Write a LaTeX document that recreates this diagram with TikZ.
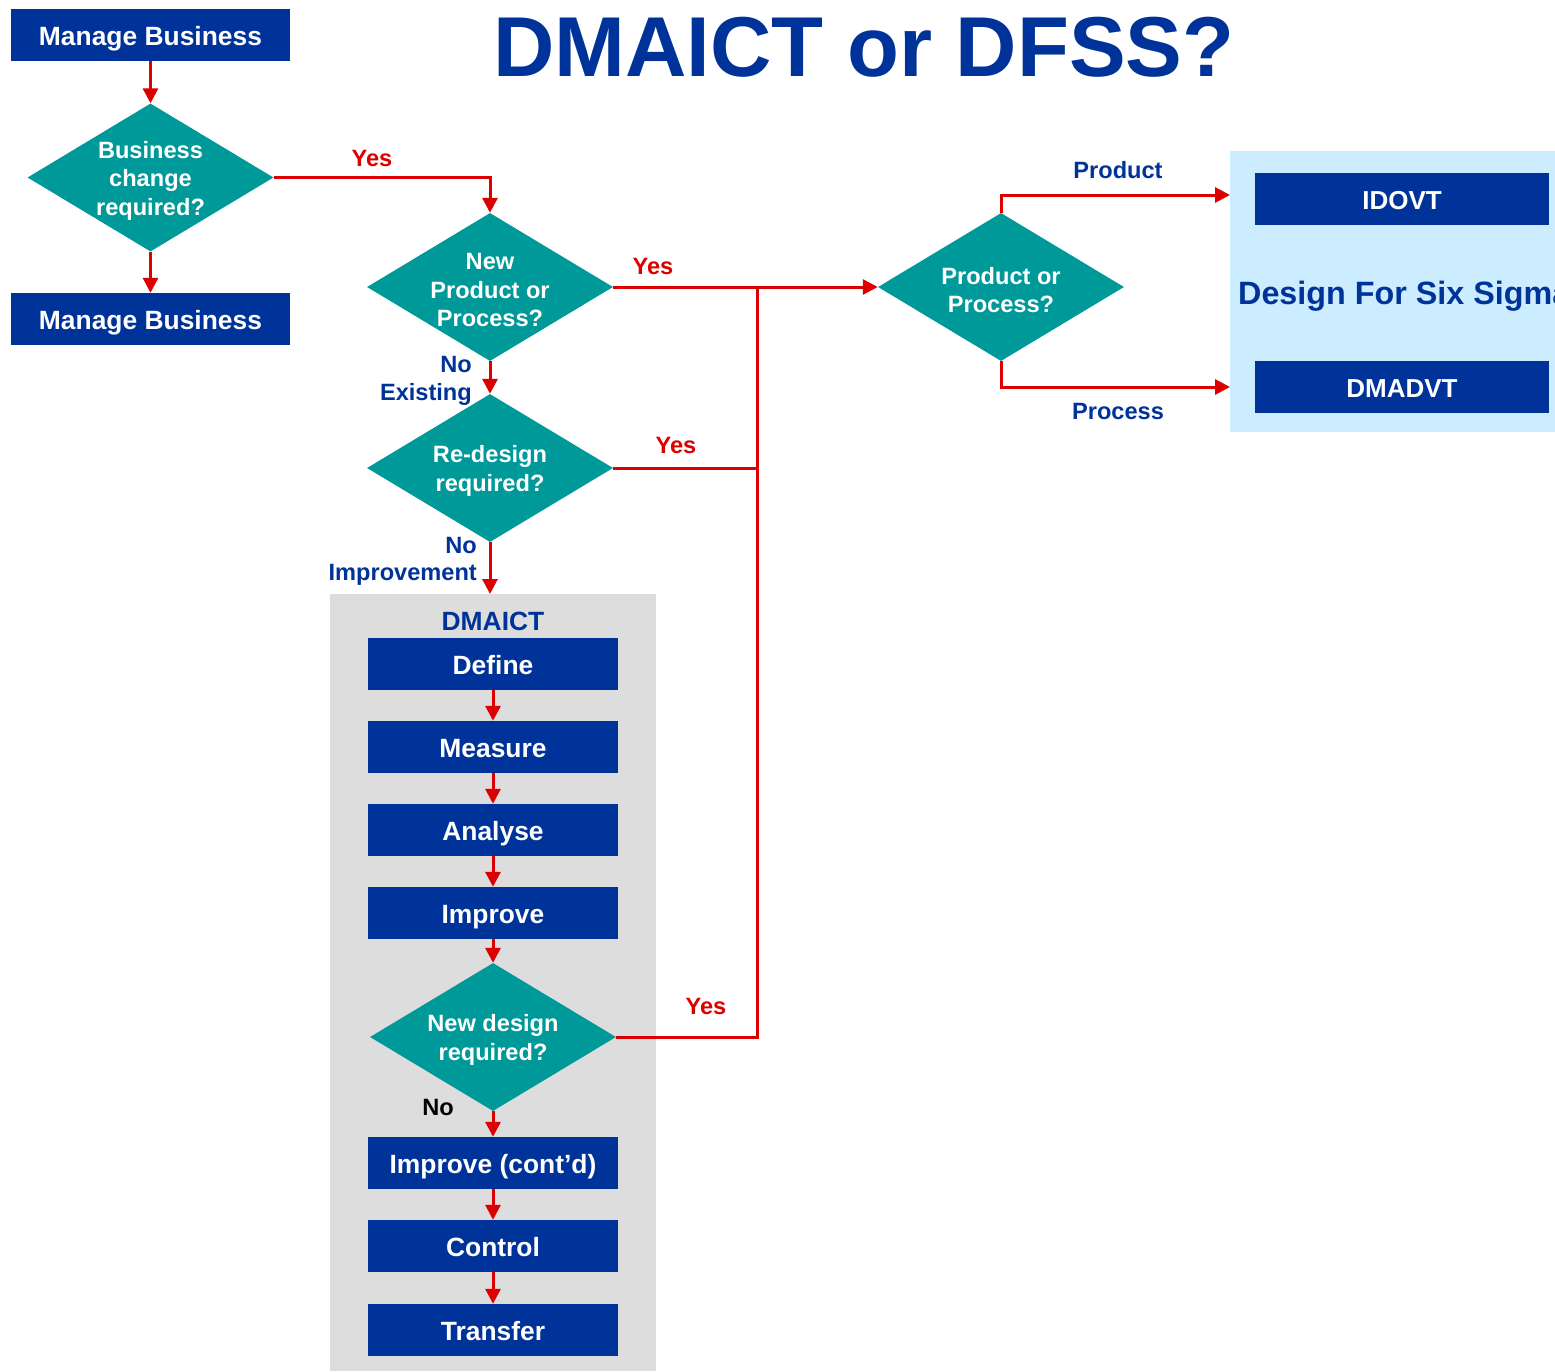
\documentclass[tikz,border=0pt]{standalone}
\usepackage{fontspec}
\setmainfont{Liberation Sans}
\usetikzlibrary{shapes.geometric,arrows.meta}
\definecolor{dblue}{HTML}{003399}
\definecolor{tealc}{HTML}{009999}
\definecolor{redc}{HTML}{DD0000}
\definecolor{greyc}{HTML}{DDDDDD}
\definecolor{lblue}{HTML}{CCECFF}
\begin{document}
\begin{tikzpicture}[x=1pt,y=-1pt,
 box/.style={fill=dblue,text=white,font=\bfseries\fontsize{26.4}{30}\selectfont,minimum height=52pt,inner sep=0pt,text height=20.5pt,text depth=0pt},
 dbox/.style={box,minimum width=250pt},
 dia/.style={shape=diamond,fill=tealc,minimum width=246pt,minimum height=148pt,inner sep=0pt},
 dtxt/.style={text=white,font=\bfseries\fontsize{23.6}{28.5}\selectfont,align=center,inner sep=0pt,yshift=-3pt},
 lab/.style={font=\bfseries\fontsize{23.6}{28}\selectfont,inner sep=0pt,text height=17pt,text depth=0pt},
 conn/.style={draw=redc,line width=3pt},
 arr/.style={conn,-{Triangle[length=15pt,width=15pt]}},
]
\useasboundingbox (0,0) rectangle (1555,1371);
% backgrounds
\node[fill=greyc,minimum width=326pt,minimum height=777pt,inner sep=0pt,anchor=north west] (dmbg) at (330,594) {};
\node[fill=lblue,minimum width=325pt,minimum height=281pt,inner sep=0pt,anchor=north west] (dfbg) at (1230,151) {};
\begin{scope}
\clip (1230,151) rectangle (1555,432);
\node[anchor=base west,text=dblue,font=\bfseries\fontsize{32.3}{36}\selectfont,inner sep=0pt] (dfss) at (1238,304) {Design For Six Sigma};
\end{scope}
% title
\node[anchor=base,text=dblue,font=\bfseries\fontsize{85}{90}\selectfont,inner sep=0pt] (title) at (864,76) {DMAICT or DFSS?};
% left column
\node[box,minimum width=279pt] (mb1) at (150.5,35) {Manage Business};
\node[dia,label={[dtxt]center:Business\\change\\required?}] (d1) at (150.5,177.5) {};
\node[box,minimum width=279pt] (mb2) at (150.5,319) {Manage Business};
% middle column
\node[dia,label={[dtxt]center:New\\Product or\\Process?}] (d2) at (490,287) {};
\node[dia,label={[dtxt]center:Re-design\\required?}] (d3) at (490,468) {};
\node[lab,text=dblue,font=\bfseries\fontsize{26.4}{30}\selectfont,text height=19pt] (dmt) at (493,621) {DMAICT};
\node[dbox] (def) at (493,664) {Define};
\node[dbox] (mea) at (493,747) {Measure};
\node[dbox] (ana) at (493,830) {Analyse};
\node[dbox] (imp) at (493,913) {Improve};
\node[dia,label={[dtxt]center:New design\\required?}] (d4) at (493,1037) {};
\node[dbox] (imc) at (493,1163) {Improve (cont’d)};
\node[dbox] (con) at (493,1246) {Control};
\node[dbox] (tra) at (493,1330) {Transfer};
% right
\node[dia,label={[dtxt]center:Product or\\Process?}] (d5) at (1001,287) {};
\node[box,minimum width=294pt,font=\bfseries\fontsize{26}{30}\selectfont] (idovt) at (1402,199) {IDOVT};
\node[box,minimum width=294pt,font=\bfseries\fontsize{26}{30}\selectfont] (dmadvt) at (1402,387) {DMADVT};
% labels
\node[lab,text=redc] (y1) at (372,158) {Yes};
\node[lab,text=redc] (y2) at (653,266) {Yes};
\node[lab,text=redc] (y3) at (676,445) {Yes};
\node[lab,text=redc] (y4) at (706,1006) {Yes};
\node[lab,text=dblue,anchor=east] (n1) at (472,364) {No};
\node[lab,text=dblue,anchor=east] (ex) at (472,392) {Existing};
\node[lab,text=dblue,anchor=east] (n2) at (477,545) {No};
\node[lab,text=dblue,anchor=east] (im) at (477,572) {Improvement};
\node[lab,text=black] (n3) at (438,1107) {No};
\node[lab,text=dblue] (pr) at (1118,170) {Product};
\node[lab,text=dblue] (ps) at (1118,411) {Process};
% connectors
\coordinate (bus) at (757,287);
\draw[arr] (mb1.south) -- (d1.north);
\draw[arr] (d1.south) -- (mb2.north);
\draw[arr] (d1.east) -| (d2.north);
\draw[arr] (d2.south) -- (d3.north);
\draw[arr] (d3.south) -- (d3.south |- dmbg.north);
\draw[arr] (def.south) -- (mea.north);
\draw[arr] (mea.south) -- (ana.north);
\draw[arr] (ana.south) -- (imp.north);
\draw[arr] (imp.south) -- (d4.north);
\draw[arr] (d4.south) -- (imc.north);
\draw[arr] (imc.south) -- (con.north);
\draw[arr] (con.south) -- (tra.north);
\draw[conn] (d2.east) -- (bus);
\draw[conn] (d3.east) -- (d3.east -| bus);
\draw[conn] (d4.east) -- (d4.east -| bus) -- (bus);
\draw[arr] (bus) -- (d5.west);
\coordinate (pt) at (1001,195);
\coordinate (pb) at (1001,387);
\draw[arr] (d5.north) -- (pt) -- (pt -| dfbg.west);
\draw[arr] (d5.south) -- (pb) -- (pb -| dfbg.west);
\end{tikzpicture}
\end{document}
